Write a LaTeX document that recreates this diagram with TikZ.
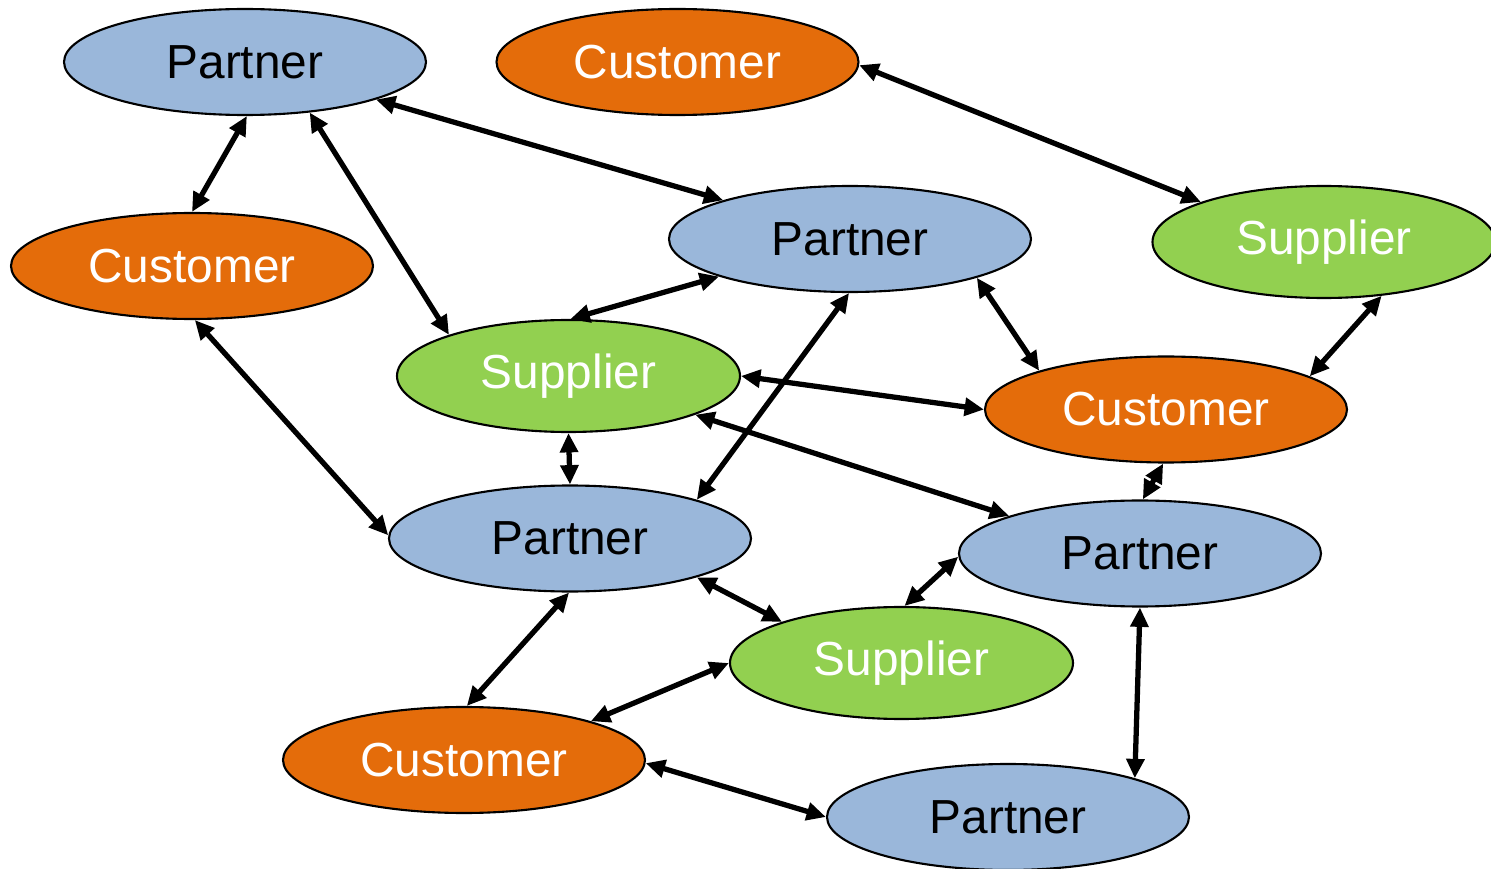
\documentclass[tikz,border=0pt]{standalone}
\usepackage{fontspec}
\setmainfont{Liberation Sans}
\usetikzlibrary{shapes.geometric,arrows.meta}
\definecolor{partnerblue}{HTML}{9AB7DA}
\definecolor{customerorange}{HTML}{E46C0A}
\definecolor{suppliergreen}{HTML}{92D050}
\begin{document}
\begin{tikzpicture}[
    role/.style={ellipse,draw=black,line width=0.6pt,inner sep=0pt,
      font=\fontsize{13.6}{16}\selectfont},
    partner/.style={role,fill=partnerblue,text=black,minimum width=3.62cm,minimum height=1.06cm},
    customer/.style={role,fill=customerorange,text=white,minimum width=3.62cm,minimum height=1.06cm},
    supplier/.style={role,fill=suppliergreen,text=white,minimum width=3.43cm,minimum height=1.12cm},
    link/.style={{Triangle[length=5.5pt,width=5pt]}-{Triangle[length=5.5pt,width=5pt]},line width=1.5pt}
  ]
  \useasboundingbox (0,0) rectangle (14.91,8.68);

  \node[partner]  (p1) at (2.45,8.06)   {Partner};
  \node[customer] (c1) at (6.775,8.06)  {Customer};
  \node[customer] (c2) at (1.92,6.02)   {Customer};
  \node[partner]  (p2) at (8.50,6.29)   {Partner};
  \node[supplier] (s1) at (13.24,6.26)  {Supplier};
  \node[supplier] (s2) at (5.685,4.92)  {Supplier};
  \node[customer] (c3) at (11.66,4.585) {Customer};
  \node[partner]  (p3) at (5.70,3.295)  {Partner};
  \node[partner]  (p4) at (11.40,3.145) {Partner};
  \node[supplier] (s3) at (9.015,2.05)  {Supplier};
  \node[customer] (c4) at (4.64,1.08)   {Customer};
  \node[partner]  (p5) at (10.08,0.51)  {Partner};

  \foreach \a/\b in {p1.-88/c2.90, p1.-38/s2.161, p1.-16/p2.163, c1.-1/s1.162,
      c2.-87/p3.179, p2.196/s2.88, p2.-91/p3.17, p2.-17/c3.163,
      s1.-43/c3.13, s2.0/c3.180, s2.-17/p4.164, s2.-90/p3.90,
      c3.-93/p4.87, p3.-17/s3.161, p3.-91/c4.87, p4.181/s3.87,
      p4.-90/p5.17, s3.180/c4.17, c4.-1/p5.180}
    \draw[link] (\a) -- (\b);
\end{tikzpicture}
\end{document}
